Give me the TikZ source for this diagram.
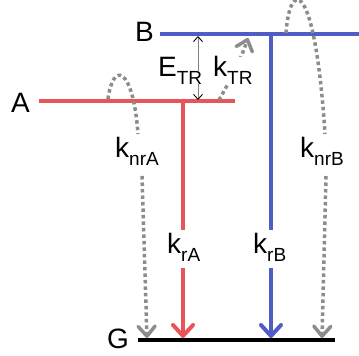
\documentclass[tikz,border=0pt]{standalone}
\usepackage{fontspec}
\setmainfont{Liberation Sans}
\usetikzlibrary{arrows.meta}
\definecolor{lvred}{HTML}{E8545A}
\definecolor{lvblue}{HTML}{4F5DC4}
\definecolor{lvgray}{HTML}{8C8C8C}
\newcommand{\mysub}[1]{\raisebox{-7.5pt}{\fontsize{19}{19}\selectfont #1}}
\newcommand{\mysubw}[1]{\raisebox{-7.5pt}{\setlength{\fboxsep}{0pt}\colorbox{white}{\fontsize{19}{19}\selectfont #1}}}
\tikzset{
  lbl/.style={inner sep=0pt, anchor=base west, font=\fontsize{28}{30}\selectfont},
  level/.style={line width=4pt},
  radarrow/.style={line width=4pt, -{Straight Barb[length=11pt,width=20pt,round]}},
  nrarrow/.style={line width=3.5pt, lvgray, dash pattern=on 3.5pt off 3pt},
  nrtip/.style={-{Straight Barb[length=10pt,width=17pt,round]}},
  etr/.style={line width=0.9pt, gray, {Straight Barb[length=5pt,width=9pt,black]}-{Straight Barb[length=5pt,width=9pt,black]}}
}
\begin{document}
\begin{tikzpicture}[x=1pt,y=1pt]
\useasboundingbox (0,0) rectangle (359,356);
% level endpoints
\coordinate (A1) at (39,255);  \coordinate (A2) at (235,255);
\coordinate (B1) at (160,322); \coordinate (B2) at (359,322);
\coordinate (G1) at (138,16);  \coordinate (G2) at (335,16);
% levels
\draw[level, lvred] (A1) -- (A2);
\draw[level, lvblue] (B1) -- (B2);
\draw[level, black] (G1) -- (G2);
% radiative
\coordinate (rA0) at (183,255); \coordinate (rA1) at (183,126);
\coordinate (rA2) at (183,88);  \coordinate (rA3) at (183,18);
\draw[level, lvred] (rA0) -- (rA1);
\draw[radarrow, lvred] (rA2) -- (rA3);
\coordinate (rB0) at (271,322); \coordinate (rB1) at (271,126);
\coordinate (rB2) at (271,88);  \coordinate (rB3) at (271,18);
\draw[level, lvblue] (rB0) -- (rB1);
\draw[radarrow, lvblue] (rB2) -- (rB3);
% E_TR
\coordinate (e1) at (198,320); \coordinate (e2) at (198,256);
\draw[etr] (e2) -- (e1);
% k_TR
\coordinate (t1) at (219,256); \coordinate (t2) at (248,318);
\draw[nrarrow, nrtip] (t1) .. controls (230,275) and (241,297) .. (t2);
% k_nrA
\coordinate (na0) at (108,257); \coordinate (na1) at (138,222);
\coordinate (na2) at (142,180); \coordinate (na3) at (147,18);
\draw[nrarrow] (na0) .. controls (113,295) and (133,290) .. (na1);
\draw[nrarrow, nrtip] (na2) -- (na3);
% k_nrB
\coordinate (nb0) at (286,323); \coordinate (nb1) at (325,222);
\coordinate (nb2) at (326,180); \coordinate (nb3) at (322,18);
\draw[nrarrow] (nb0) .. controls (290,378) and (315,378) .. (nb1);
\draw[nrarrow, nrtip] (nb2) -- (nb3);
% labels
\node[lbl] (lA) at (11,243) {A};
\node[lbl] (lB) at (135,314) {B};
\node[lbl] (lG) at (107,7) {G};
\node[lbl] (lETR) at (158,279) {E\mysubw{TR}};
\node[lbl, fill=white] (lkTR) at (213,279) {k\mysub{TR}};
\node[lbl] (lknrA) at (115,198) {k\mysub{nrA}};
\node[lbl] (lknrB) at (300,198) {k\mysub{nrB}};
\node[lbl] (lkrA) at (167,102) {k\mysub{rA}};
\node[lbl] (lkrB) at (253,102) {k\mysub{rB}};
\end{tikzpicture}
\end{document}
